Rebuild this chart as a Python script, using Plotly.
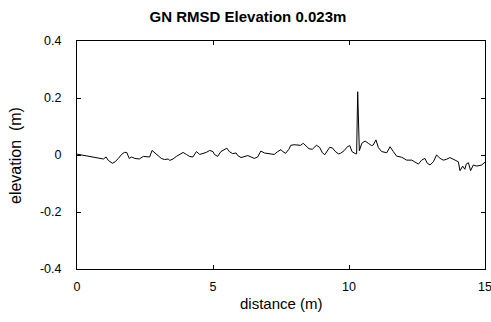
import plotly.graph_objects as go

# distance along profile (m) and elevation (m)
distance = [0.00, 0.85, 0.97, 1.07, 1.15, 1.30, 1.40, 1.52, 1.64, 1.74, 1.83, 1.92, 2.01, 2.13, 2.29, 2.44,
            2.55, 2.67, 2.76, 2.86, 2.98, 3.10, 3.22, 3.35, 3.41, 3.53, 3.65, 3.78, 3.90, 4.02, 4.14, 4.26,
            4.39, 4.51, 4.63, 4.75, 4.88, 5.00, 5.05, 5.17, 5.29, 5.42, 5.51, 5.60, 5.72, 5.85, 5.91, 6.03,
            6.15, 6.28, 6.40, 6.52, 6.64, 6.76, 6.89, 7.01, 7.13, 7.25, 7.38, 7.50, 7.55, 7.67, 7.79, 7.86,
            7.98, 8.10, 8.22, 8.32, 8.41, 8.53, 8.65, 8.80, 8.92, 9.02, 9.11, 9.20, 9.29, 9.39, 9.49, 9.61,
            9.69, 9.82, 9.94, 10.03, 10.11, 10.23, 10.28, 10.32, 10.38, 10.47, 10.59, 10.71, 10.83, 10.89,
            10.99, 11.08, 11.20, 11.39, 11.51, 11.63, 11.75, 11.94, 12.12, 12.31, 12.43, 12.55, 12.67, 12.79,
            12.88, 12.98, 13.10, 13.22, 13.35, 13.47, 13.59, 13.71, 13.90, 14.02, 14.08, 14.18, 14.26, 14.31,
            14.39, 14.47, 14.57, 14.70, 14.88, 15.00]
elevation = [0.003, -0.012, -0.014, -0.007, -0.019, -0.029, -0.024, -0.012, 0.002, 0.009, 0.009, -0.012, -0.007,
             -0.012, -0.014, -0.005, -0.007, -0.007, 0.016, 0.007, -0.002, -0.012, -0.016, -0.014, -0.019,
             -0.014, -0.005, 0.002, 0.009, 0.002, -0.005, -0.007, 0.012, 0.002, 0.005, 0.009, 0.016, 0.012,
             0.002, -0.005, 0.012, 0.021, 0.024, 0.012, 0.005, 0.007, -0.002, -0.009, -0.005, -0.002, -0.007,
             -0.012, -0.007, 0.014, 0.007, 0.005, 0.002, 0.002, 0.012, 0.019, 0.013, 0.006, 0.020, 0.034,
             0.036, 0.034, 0.034, 0.041, 0.034, 0.022, 0.020, 0.034, 0.027, 0.008, 0.001, 0.015, 0.027, 0.025,
             0.013, 0.004, 0.006, 0.015, 0.029, 0.033, 0.012, 0.005, 0.004, 0.222, 0.015, 0.041, 0.049, 0.041,
             0.033, 0.035, 0.053, 0.026, 0.012, 0.008, 0.029, 0.012, -0.004, -0.008, -0.018, -0.018, -0.024,
             -0.032, -0.018, -0.012, -0.029, -0.035, -0.024, 0.000, -0.012, -0.018, -0.015, -0.009, -0.018,
             -0.024, -0.055, -0.039, -0.050, -0.032, -0.027, -0.055, -0.035, -0.039, -0.035, -0.025]

x_ticks = [0, 5, 10, 15]
x_tick_labels = ["0", "5", "10", "15"]
y_ticks = [-0.4, -0.2, 0, 0.2, 0.4]
y_tick_labels = ["-0.4", "-0.2", "0", "0.2", "0.4"]

FONT = "Liberation Sans, Arial, sans-serif"

fig = go.Figure()
fig.add_trace(go.Scatter(x=distance, y=elevation, mode="lines",
                         line=dict(color="black", width=1), showlegend=False))

axis_common = dict(showline=True, linecolor="black", linewidth=1, mirror="ticks",
                   ticks="inside", ticklen=4, tickcolor="black", tickwidth=1,
                   showgrid=False, zeroline=False, ticklabeloverflow="allow",
                   automargin=False,
                   tickfont=dict(family=FONT, size=12.5, color="black"))

fig.update_layout(
    width=491, height=322,
    margin=dict(l=77, r=6, t=41, b=53),
    paper_bgcolor="white", plot_bgcolor="white",
    title=dict(text="<b>GN RMSD Elevation 0.023m</b>", x=0.505, xanchor="center",
               y=1 - 17 / 322, yanchor="middle", yref="container",
               font=dict(family=FONT, size=15, color="black")),
    xaxis=dict(range=[0, 15], tickvals=x_ticks, ticktext=x_tick_labels,
               ticklabelstandoff=6, **axis_common),
    yaxis=dict(range=[-0.4, 0.4], tickvals=y_ticks, ticktext=y_tick_labels,
               ticklabelstandoff=12, **axis_common),
    annotations=[
        dict(text="distance (m)", xref="paper", yref="paper", x=0.5, y=(269 - 303) / 228,
             xanchor="center", yanchor="middle", showarrow=False,
             font=dict(family=FONT, size=15, color="black")),
        dict(text="elevation  (m)", xref="paper", yref="paper", x=(15 - 77) / 408, y=(269 - 156) / 228,
             xanchor="center", yanchor="middle", showarrow=False, textangle=-90,
             font=dict(family=FONT, size=16, color="black")),
    ],
)

fig.write_html("out.html")
